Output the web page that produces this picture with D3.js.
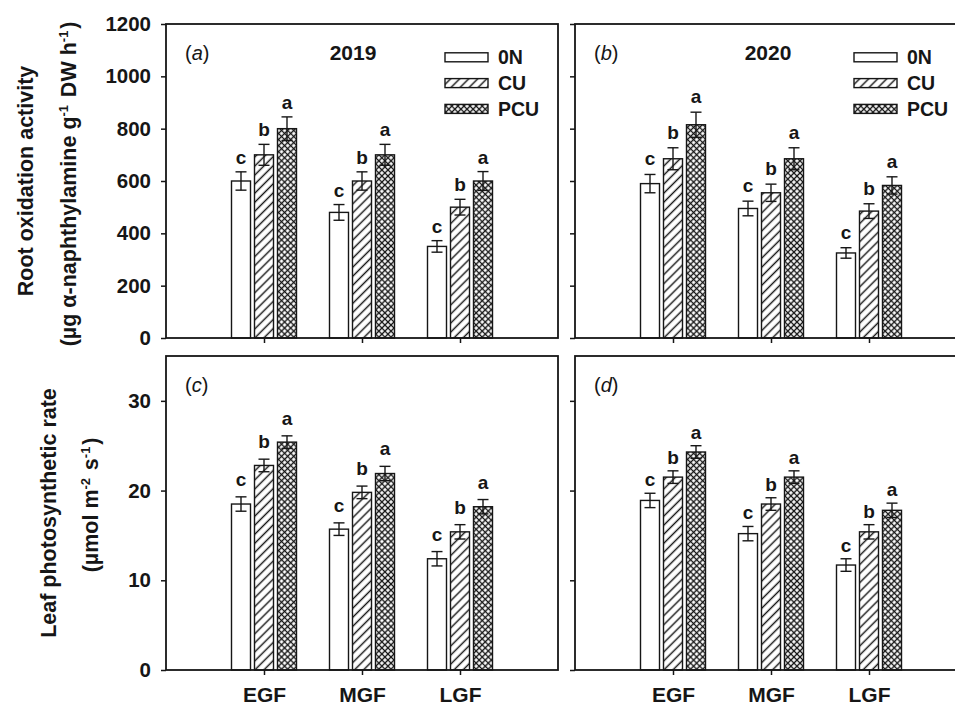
<!DOCTYPE html>
<html><head><meta charset="utf-8">
<script src="https://cdn.jsdelivr.net/npm/d3@7"></script>
<style>
body{margin:0;background:#fff}
svg{display:block;font-family:"Liberation Sans",Arial,sans-serif}
</style></head><body>
<svg id="chart" width="955" height="707"></svg>
<script>
// ---------- data ----------
const categories = ["EGF", "MGF", "LGF"];
const treatments = ["0N", "CU", "PCU"];
const sigLetters = ["c", "b", "a"];
const years = ["2019", "2020"];
const panelTags = ["a", "b", "c", "d"];
const rootTicks = [0, 200, 400, 600, 800, 1000, 1200];
const leafTicks = [0, 10, 20, 30];

// Root oxidation activity, 2019 (a)
const root2019_0N = [600, 480, 350],  root2019_0N_se = [35, 30, 22];
const root2019_CU = [700, 600, 500],  root2019_CU_se = [40, 35, 30];
const root2019_PCU = [800, 700, 600], root2019_PCU_se = [45, 40, 36];
// Root oxidation activity, 2020 (b)
const root2020_0N = [590, 495, 325],  root2020_0N_se = [35, 28, 20];
const root2020_CU = [685, 555, 485],  root2020_CU_se = [42, 33, 28];
const root2020_PCU = [815, 685, 583], root2020_PCU_se = [48, 42, 33];
// Leaf photosynthetic rate, 2019 (c)
const leaf2019_0N = [18.5, 15.7, 12.4],  leaf2019_0N_se = [0.8, 0.7, 0.8];
const leaf2019_CU = [22.8, 19.8, 15.4],  leaf2019_CU_se = [0.7, 0.7, 0.8];
const leaf2019_PCU = [25.4, 21.9, 18.2], leaf2019_PCU_se = [0.7, 0.8, 0.8];
// Leaf photosynthetic rate, 2020 (d)
const leaf2020_0N = [18.9, 15.2, 11.7],  leaf2020_0N_se = [0.8, 0.8, 0.7];
const leaf2020_CU = [21.5, 18.5, 15.4],  leaf2020_CU_se = [0.7, 0.7, 0.8];
const leaf2020_PCU = [24.3, 21.5, 17.8], leaf2020_PCU_se = [0.7, 0.7, 0.8];

// ---------- layout ----------
const colLeft = [166, 575], rowTop = [24, 356], PW = 392, PH = 314;
const INK = "#161616";

const panels = [
  {tag: panelTags[0], col: 0, row: 0, year: years[0], max: 1200, ticks: rootTicks, gap: 8,
   vals: [root2019_0N, root2019_CU, root2019_PCU], se: [root2019_0N_se, root2019_CU_se, root2019_PCU_se]},
  {tag: panelTags[1], col: 1, row: 0, year: years[1], max: 1200, ticks: rootTicks, gap: 9,
   vals: [root2020_0N, root2020_CU, root2020_PCU], se: [root2020_0N_se, root2020_CU_se, root2020_PCU_se]},
  {tag: panelTags[2], col: 0, row: 1, year: null, max: 35, ticks: leafTicks, gap: 11,
   vals: [leaf2019_0N, leaf2019_CU, leaf2019_PCU], se: [leaf2019_0N_se, leaf2019_CU_se, leaf2019_PCU_se]},
  {tag: panelTags[3], col: 1, row: 1, year: null, max: 35, ticks: leafTicks, gap: 7,
   vals: [leaf2020_0N, leaf2020_CU, leaf2020_PCU], se: [leaf2020_0N_se, leaf2020_CU_se, leaf2020_PCU_se]}
];

const svg = d3.select("#chart");
const defs = svg.append("defs");

// diagonal hatch for CU
const hatch = defs.append("pattern").attr("id", "hatch").attr("patternUnits", "userSpaceOnUse")
  .attr("width", 6.4).attr("height", 6.4).attr("patternTransform", "rotate(45)");
hatch.append("rect").attr("width", 6.4).attr("height", 6.4).attr("fill", "#fff");
hatch.append("line").attr("x1", 3.2).attr("x2", 3.2).attr("y1", 0).attr("y2", 6.4)
  .attr("stroke", INK).attr("stroke-width", 1.45);

// cross hatch for PCU
const cross = defs.append("pattern").attr("id", "cross").attr("patternUnits", "userSpaceOnUse")
  .attr("width", 4.3).attr("height", 4.3).attr("patternTransform", "rotate(45)");
cross.append("rect").attr("width", 4.3).attr("height", 4.3).attr("fill", "#fff");
cross.append("path").attr("d", "M0,2.15H4.3M2.15,0V4.3")
  .attr("stroke", INK).attr("stroke-width", 1.4).attr("fill", "none");

const fills = ["#fff", "url(#hatch)", "url(#cross)"];
const barW = 19, barStep = 23;

panels.forEach(p => {
  const g = svg.append("g").attr("transform", `translate(${colLeft[p.col]},${rowTop[p.row]})`);
  const x = d3.scaleLinear().domain([0, 4]).range([0, PW]);
  const y = d3.scaleLinear().domain([0, p.max]).range([PH, 0]);

  // bars, error bars, letters
  p.vals.forEach((arr, i) => {
    arr.forEach((v, j) => {
      const cx = x(j + 1) + (i - 1) * barStep;
      const e = p.se[i][j];
      g.append("rect").attr("x", cx - barW / 2).attr("y", y(v))
        .attr("width", barW).attr("height", y(0) - y(v))
        .attr("fill", fills[i]).attr("stroke", INK).attr("stroke-width", 1.4);
      const eg = g.append("g").attr("stroke", INK).attr("stroke-width", 1.4);
      eg.append("line").attr("x1", cx).attr("x2", cx).attr("y1", y(v - e)).attr("y2", y(v + e));
      eg.append("line").attr("x1", cx - 5.5).attr("x2", cx + 5.5).attr("y1", y(v - e)).attr("y2", y(v - e));
      eg.append("line").attr("x1", cx - 5.5).attr("x2", cx + 5.5).attr("y1", y(v + e)).attr("y2", y(v + e));
      g.append("text").attr("x", cx).attr("y", y(v + e) - p.gap)
        .attr("text-anchor", "middle").attr("font-weight", "bold").attr("font-size", 19)
        .attr("fill", INK).text(sigLetters[i]);
    });
  });

  // frame
  g.append("rect").attr("x", 0).attr("y", 0).attr("width", PW).attr("height", PH)
    .attr("fill", "none").attr("stroke", INK).attr("stroke-width", 1.8);

  // y axis
  const ya = g.append("g").call(d3.axisLeft(y).tickValues(p.ticks).tickSize(5).tickPadding(10)
    .tickFormat(p.col === 0 ? d3.format("d") : () => ""));
  ya.select(".domain").remove();
  ya.selectAll("line").attr("stroke", INK).attr("stroke-width", 1.5);
  ya.selectAll("text").attr("font-family", "'Liberation Sans',Arial,sans-serif")
    .attr("font-size", 20.5).attr("font-weight", "bold").attr("fill", INK);

  // x axis
  const xa = g.append("g").attr("transform", `translate(0,${PH})`)
    .call(d3.axisBottom(x).tickValues([1, 2, 3]).tickSize(5).tickPadding(12)
      .tickFormat(p.row === 1 ? d => categories[d - 1] : () => ""));
  xa.select(".domain").remove();
  xa.selectAll("line").attr("stroke", INK).attr("stroke-width", 1.5);
  xa.selectAll("text").attr("font-family", "'Liberation Sans',Arial,sans-serif")
    .attr("font-size", 21).attr("font-weight", "bold").attr("fill", INK);

  // panel tag
  const t = g.append("text").attr("x", 19).attr("y", 36).attr("font-size", 20).attr("fill", INK);
  t.append("tspan").text("(");
  t.append("tspan").attr("font-style", "italic").text(p.tag);
  t.append("tspan").text(")");

  // year + legend
  if (p.year) {
    g.append("text").attr("x", p.col === 0 ? 187 : 193).attr("y", 36).attr("text-anchor", "middle")
      .attr("font-size", 21).attr("font-weight", "bold").attr("fill", INK).text(p.year);
    treatments.forEach((tr, i) => {
      const cy = 33.3 + i * 25.8;
      g.append("rect").attr("x", 279).attr("y", cy - 4.5).attr("width", 43).attr("height", 9)
        .attr("fill", fills[i]).attr("stroke", INK).attr("stroke-width", 1.4);
      g.append("text").attr("x", 332).attr("y", cy + 7).attr("font-size", 19.5)
        .attr("font-weight", "bold").attr("fill", INK).text(tr);
    });
  }
});

// y-axis titles
function title(cx, cy, build) {
  const t = svg.append("text").attr("transform", `translate(${cx},${cy}) rotate(-90)`)
    .attr("text-anchor", "middle").attr("dy", "0.35em")
    .attr("font-size", 21.5).attr("font-weight", "bold").attr("fill", INK);
  build(t);
}
function sup(t, s) {
  t.append("tspan").attr("dy", -8).attr("font-size", 13).text(s);
  t.append("tspan").attr("dy", 8).text("\u200A");
}
title(25, 181, t => t.text("Root oxidation activity"));
title(68, 184, t => {
  t.append("tspan").text("(\u00B5g \u03B1-naphthylamine g");
  sup(t, "-1");
  t.append("tspan").text(" DW h");
  sup(t, "-1");
  t.append("tspan").text(")");
});
title(48, 513, t => t.text("Leaf photosynthetic rate"));
title(90, 505, t => {
  t.append("tspan").text("(\u00B5mol m");
  sup(t, "-2");
  t.append("tspan").text(" s");
  sup(t, "-1");
  t.append("tspan").text(")");
});
</script>
</body></html>
